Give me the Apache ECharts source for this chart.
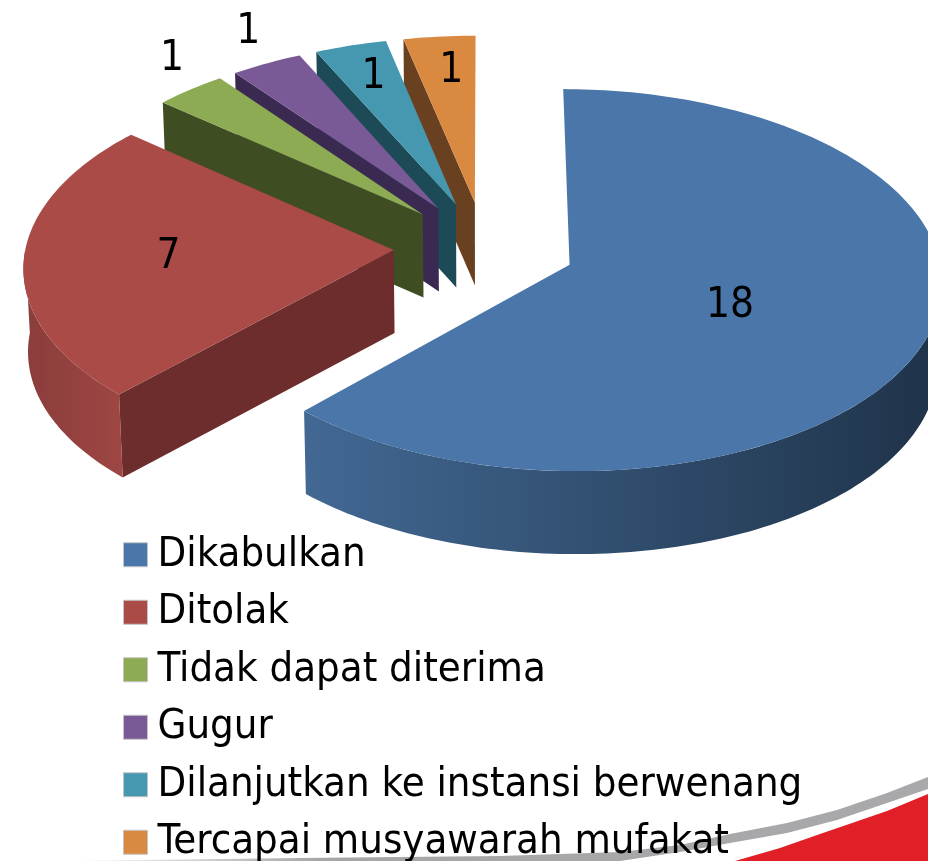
<!DOCTYPE html>
<html>
<head>
<meta charset="utf-8">
<style>html,body{margin:0;padding:0;background:#fff}#chart{width:928px;height:861px}</style>
<script src="https://cdn.jsdelivr.net/npm/echarts@6/dist/echarts.min.js"></script>
</head>
<body>
<div id="chart"></div>
<script>
var categories = ['Dikabulkan', 'Ditolak', 'Tidak dapat diterima', 'Gugur', 'Dilanjutkan ke instansi berwenang', 'Tercapai musyawarah mufakat'];
var values = [18, 7, 1, 1, 1, 1];

var topColors = ['#4a76a9', '#aa4b48', '#8cab52', '#795a96', '#4598b0', '#da8a40'];
var sideColors = ['#1e3248', '#6c2d2c', '#3f4d23', '#3a2a52', '#1c4a57', '#6a4120'];
var arcColors = [['#426893', '#1f3349'], ['#9e4643', '#8a3d3b']];
// how far along the slice's middle the number sits, then a small shift in px
var labelDist = [0.456, 0.61, 1.12, 1.12, 0.76, 0.68];
var labelShift = [[0, 9], [0, 1], [8, -16], [1, -15], [-1, -5], [1, -16]];

// scene
var cx = 484.5, cy = 247.5, rx = 368, ry = 187, persp = 0.08, explode = 0.247, depth = 83, bottomScale = 0.99;
var fontName = 'DejaVu Sans Condensed';

var total = 0;
values.forEach(function (v) { total += v; });
var starts = [];
var sum = 0;
values.forEach(function (v) {
    starts.push(sum / total * Math.PI * 2);
    sum += v;
});

function project(mid, t, f) {
    var X = Math.sin(mid) * explode + Math.sin(t) * f;
    var Y = -Math.cos(mid) * explode - Math.cos(t) * f;
    var p = 1 / (1 - persp * Y);
    return [cx + rx * X * p, cy + ry * Y * p];
}

function arcPoints(mid, a, b) {
    var pts = [];
    var n = Math.max(2, Math.ceil((b - a) / 0.02));
    for (var i = 0; i <= n; i++) {
        pts.push(project(mid, a + (b - a) * i / n, 1));
    }
    return pts;
}

// underside of the same outline, walked backwards to close a wall
function drop(pts) {
    return pts.map(function (p) {
        return [cx + (p[0] - cx) * bottomScale, p[1] + depth];
    }).reverse();
}

function makeItem(idx) {
    return function () {
        var a = starts[idx];
        var b = a + values[idx] / total * Math.PI * 2;
        var mid = (a + b) / 2;
        var apex = project(mid, 0, 0);
        var children = [];

        // flat side faces that look towards the viewer
        [[a, Math.sin(a) < -1e-6], [b, Math.sin(b) > 1e-6]].forEach(function (e) {
            if (!e[1]) return;
            var edge = [apex, project(mid, e[0], 1)];
            children.push({
                type: 'polygon',
                shape: {points: edge.concat(drop(edge))},
                style: {fill: sideColors[idx]}
            });
        });

        // rim, only the near half of the ellipse
        var ra = Math.max(a, Math.PI / 2);
        var rb = Math.min(b, Math.PI * 1.5);
        if (rb > ra) {
            var rim = arcPoints(mid, ra, rb);
            var cols = arcColors[idx] || [sideColors[idx], sideColors[idx]];
            children.push({
                type: 'polygon',
                shape: {points: rim.concat(drop(rim))},
                style: {
                    fill: new echarts.graphic.LinearGradient(1, 0, 0, 0, [
                        {offset: 0, color: idx === 0 ? cols[1] : cols[0]},
                        {offset: 1, color: idx === 0 ? cols[0] : cols[1]}
                    ])
                }
            });
        }

        children.push({
            type: 'polygon',
            shape: {points: [apex].concat(arcPoints(mid, a, b))},
            style: {fill: topColors[idx]}
        });

        var lp = project(mid, mid, labelDist[idx]);
        children.push({
            type: 'text',
            z2: 100,
            style: {
                x: lp[0] + labelShift[idx][0],
                y: lp[1] + labelShift[idx][1],
                text: String(values[idx]),
                fill: '#000',
                font: '42px "' + fontName + '"',
                align: 'center',
                verticalAlign: 'middle'
            }
        });
        return {type: 'group', children: children};
    };
}

var series = categories.map(function (name, i) {
    return {
        name: name,
        type: 'custom',
        coordinateSystem: 'none',
        z: 8 - i,
        silent: true,
        animation: false,
        itemStyle: {color: topColors[i]},
        renderItem: makeItem(i),
        data: [[values[i]]]
    };
});

var myChart = echarts.init(document.getElementById('chart'));
myChart.setOption({
    backgroundColor: '#fff',
    animation: false,
    legend: {
        data: categories,
        orient: 'vertical',
        left: 118,
        top: 521,
        height: 500,
        itemWidth: 24,
        itemHeight: 24,
        itemGap: 0,
        icon: 'rect',
        selectedMode: false,
        itemStyle: {borderColor: '#c4c4c4', borderWidth: 1},
        textStyle: {
            fontFamily: fontName,
            fontSize: 41.5,
            color: '#000',
            lineHeight: 57.5,
            padding: [0, 0, 0, 5]
        }
    },
    graphic: [
        {
            type: 'polygon',
            z: 1,
            silent: true,
            shape: {points: [[60, 861], [300, 858], [500, 856], [620, 852], [680, 845], [730, 834], [787, 823], [837, 810], [887, 793], [928, 777], [928, 789], [887, 803], [837, 820], [787, 833], [730, 843], [680, 852], [620, 861]]},
            style: {
                fill: new echarts.graphic.LinearGradient(0, 0, 1, 0, [
                    {offset: 0, color: '#ffffff'},
                    {offset: 0.3, color: '#a6a6a8'},
                    {offset: 1, color: '#a9a9ac'}
                ])
            }
        },
        {
            type: 'polygon',
            z: 1,
            silent: true,
            shape: {points: [[735, 861], [780, 848], [820, 834], [887, 811], [928, 794], [928, 861]]},
            style: {fill: '#e01f27'}
        }
    ],
    series: series
});
</script>
</body>
</html>
